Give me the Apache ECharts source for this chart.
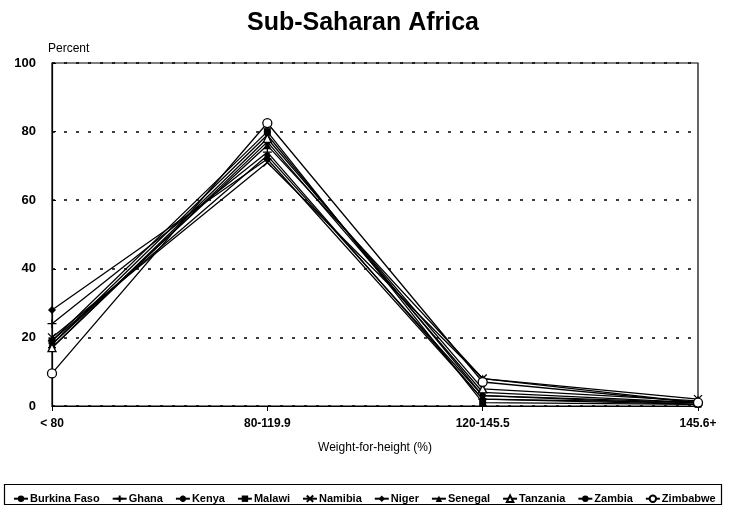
<!DOCTYPE html>
<html><head><meta charset="utf-8">
<script src="https://cdn.jsdelivr.net/npm/echarts@6/dist/echarts.min.js"></script>
<style>html,body{margin:0;padding:0;background:#fff}#c{width:731px;height:514px}</style>
</head><body><div id="c"></div>
<script>
var categories = ['< 80', '80-119.9', '120-145.5', '145.6+'];
var yTicks = [0, 20, 40, 60, 80, 100];
var burkinaFaso = [18, 79, 3, 0.5];
var ghana = [24, 74, 2, 1];
var kenya = [17, 77, 4, 1];
var malawi = [19, 80, 1, 0.5];
var namibia = [20, 71, 8, 2];
var niger = [28, 72, 2, 0.5];
var senegal = [18, 76, 8, 1];
var tanzania = [17, 78, 5, 1.5];
var zambia = [19, 73, 3, 1];
var zimbabwe = [9.5, 82.5, 7, 1];

var F = 'Liberation Sans, Arial, sans-serif';
var plusPath = 'path://M5,0L5,10M0,5L10,5';
var xPath = 'path://M0,0L10,10M10,0L0,10';
var starPath = 'path://M5,0L5,10M0,5L10,5M1.5,1.5L8.5,8.5M8.5,1.5L1.5,8.5';
var defs = [
  ['Burkina Faso', burkinaFaso, 'circle', 5, true],
  ['Ghana', ghana, plusPath, 9, false],
  ['Kenya', kenya, starPath, 8, false],
  ['Malawi', malawi, 'rect', 7, true],
  ['Namibia', namibia, xPath, 8, false],
  ['Niger', niger, 'diamond', 8, true],
  ['Senegal', senegal, 'triangle', 8, true],
  ['Tanzania', tanzania, 'triangle', 8, 'open'],
  ['Zambia', zambia, 'circle', 6, true],
  ['Zimbabwe', zimbabwe, 'circle', 9, 'open']
];
var series = defs.map(function (d) {
  var filled = d[4] === true;
  var open = d[4] === 'open';
  return {
    name: d[0], type: 'line', data: d[1], symbol: d[2], symbolSize: d[3],
    showAllSymbol: true,
    lineStyle: { color: '#000', width: 1.3 },
    itemStyle: { color: filled ? '#000' : (open ? '#fff' : 'none'), borderColor: '#000', borderWidth: filled ? 0 : 1.3 },
    emphasis: { disabled: true }, animation: false
  };
});
var chart = echarts.init(document.getElementById('c'));
chart.setOption({
  animation: false,
  title: { text: 'Sub-Saharan Africa', left: 358, textAlign: 'center', top: 6,
    textStyle: { fontFamily: F, fontSize: 25, fontWeight: 'bold', color: '#000' } },
  grid: { left: 52, right: 33, top: 63, bottom: 108, show: true, borderColor: '#000', borderWidth: 1.2 },
  xAxis: { type: 'category', data: categories, boundaryGap: false,
    name: 'Weight-for-height (%)', nameLocation: 'middle', nameGap: 36,
    nameTextStyle: { fontFamily: F, fontSize: 12, color: '#000' },
    axisLine: { lineStyle: { color: '#000', width: 1.2 } },
    axisTick: { show: true, alignWithLabel: true, length: 5, lineStyle: { color: '#000' } },
    axisLabel: { fontFamily: F, fontSize: 12, fontWeight: 'bold', color: '#000', margin: 12 },
    splitLine: { show: false } },
  yAxis: { type: 'value', min: yTicks[0], max: yTicks[yTicks.length - 1], interval: 20,
    name: 'Percent', nameLocation: 'end', nameGap: 8,
    nameTextStyle: { fontFamily: F, fontSize: 12, color: '#000', align: 'left', padding: [0, 0, 0, -4] },
    axisLine: { show: true, lineStyle: { color: '#000', width: 1.2 } },
    axisTick: { show: true, inside: true, length: 4, lineStyle: { color: '#000' } },
    axisLabel: { fontFamily: F, fontSize: 13, fontWeight: 'bold', color: '#000', margin: 16 },
    splitLine: { show: true, lineStyle: { color: '#000', type: [3, 9], width: 1.5 } } },
  legend: { left: 8, top: 488, itemGap: 12, itemWidth: 14, itemHeight: 8,
    data: defs.map(function (d) { return d[0]; }),
    textStyle: { fontFamily: F, fontSize: 11, fontWeight: 'bold', color: '#000', padding: [0, 0, 0, -3] } },
  graphic: [{ type: 'rect', shape: { x: 4.5, y: 484.5, width: 717, height: 20 },
    style: { fill: 'none', stroke: '#000', lineWidth: 1.2 }, silent: true }],
  series: series
});
</script></body></html>
